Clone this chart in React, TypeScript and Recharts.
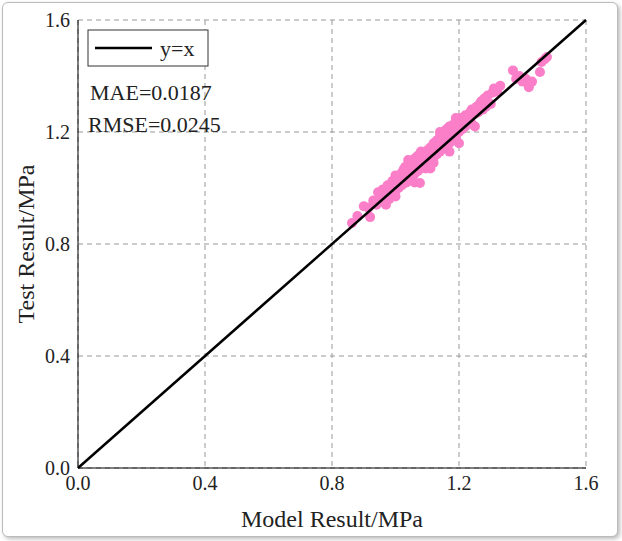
import React from "react";
import { ScatterChart, Scatter, XAxis, YAxis, CartesianGrid, Customized } from "recharts";

const ticks = [0, 0.4, 0.8, 1.2, 1.6];
const diagonal = [
  { x: 0, y: 0 },
  { x: 1.6, y: 1.6 },
];
// [model, test]
const samples: [number, number][] = [
  [0.863, 0.875], [0.88, 0.9], [0.9, 0.935], [0.92, 0.896], [0.915, 0.93], [0.93, 0.955],
  [0.94, 0.94], [0.95, 0.97], [0.945, 0.985], [0.96, 0.95], [0.96, 0.995], [0.97, 0.97],
  [0.975, 1.01], [0.98, 0.96], [0.985, 0.995], [0.99, 1.025], [1.0, 0.99], [1.0, 1.045],
  [1.01, 1.0], [1.01, 1.03], [1.02, 1.055], [1.02, 1.01], [1.025, 1.065], [1.03, 1.03],
  [1.03, 1.075], [1.035, 1.02], [1.04, 1.055], [1.04, 1.085], [1.045, 1.04], [1.05, 1.07],
  [1.05, 1.095], [1.05, 1.03], [1.055, 1.08], [1.06, 1.05], [1.06, 1.105], [1.065, 1.075],
  [1.07, 1.09], [1.07, 1.06], [1.07, 1.115], [1.075, 1.1], [1.077, 1.018], [1.08, 1.07],
  [1.08, 1.115], [1.085, 1.085], [1.09, 1.125], [1.09, 1.095], [1.095, 1.07], [1.1, 1.105],
  [1.1, 1.135], [1.1, 1.08], [1.105, 1.12], [1.11, 1.145], [1.11, 1.1], [1.115, 1.13],
  [1.12, 1.16], [1.12, 1.11], [1.125, 1.14], [1.13, 1.17], [1.13, 1.12], [1.135, 1.15],
  [1.14, 1.185], [1.14, 1.13], [1.145, 1.16], [1.15, 1.2], [1.15, 1.14], [1.155, 1.17],
  [1.16, 1.21], [1.16, 1.15], [1.165, 1.18], [1.17, 1.22], [1.17, 1.16], [1.175, 1.19],
  [1.18, 1.225], [1.18, 1.17], [1.185, 1.2], [1.19, 1.235], [1.19, 1.18], [1.2, 1.2],
  [1.2, 1.23], [1.205, 1.25], [1.21, 1.21], [1.21, 1.24], [1.22, 1.22], [1.22, 1.26],
  [1.225, 1.235], [1.23, 1.25], [1.235, 1.27], [1.24, 1.23], [1.24, 1.28], [1.25, 1.265],
  [1.255, 1.29], [1.26, 1.27], [1.265, 1.3], [1.27, 1.31], [1.275, 1.28], [1.28, 1.32],
  [1.285, 1.29], [1.29, 1.33], [1.3, 1.3], [1.305, 1.34], [1.31, 1.355], [1.32, 1.345],
  [1.33, 1.365], [1.37, 1.42], [1.38, 1.39], [1.39, 1.4], [1.4, 1.38], [1.42, 1.36],
  [1.41, 1.39], [1.43, 1.38], [1.455, 1.414], [1.46, 1.45], [1.47, 1.46], [1.477, 1.468],
  [1.06, 1.02], [1.12, 1.09], [1.17, 1.13], [1.0, 0.97], [0.97, 0.94], [1.14, 1.2],
  [1.08, 1.13], [1.2, 1.16], [1.25, 1.22], [1.11, 1.07], [1.04, 1.1], [1.19, 1.25],
];
const points = samples.map(([x, y]) => ({ x, y }));

const font = "'Liberation Serif', 'Times New Roman', serif";
const fmt = (v: number) => v.toFixed(1);

export default function App() {
  return (
    <div style={{ position: "absolute", left: 0, top: 0, width: 622, height: 541, fontFamily: font }}>
      <div
        style={{
          position: "absolute", left: 2, top: 2, width: 614, height: 533,
          border: "1px solid #bbb", borderRadius: 6, boxShadow: "2px 2px 4px #bbb", background: "#fff",
        }}
      />
      <div style={{ position: "absolute", left: 0, top: 0 }}>
        <ScatterChart width={622} height={541} margin={{ top: 20, right: 36, bottom: 0, left: 0 }}>
          <CartesianGrid stroke="#999" strokeDasharray="5 4" />
          <XAxis
            type="number" dataKey="x" domain={[0, 1.6]} ticks={ticks} tickFormatter={fmt}
            stroke="#000" tick={{ fill: "#222", fontSize: 20, fontFamily: font }} tickLine={false}
            height={73}
          />
          <XAxis xAxisId="top" orientation="top" type="number" domain={[0, 1.6]} ticks={ticks} tick={false} tickLine={false} stroke="#000" height={0} />
          <YAxis
            type="number" dataKey="y" domain={[0, 1.6]} ticks={ticks} tickFormatter={fmt}
            stroke="#000" tick={{ fill: "#222", fontSize: 20, fontFamily: font }} tickLine={false}
            width={78}
          />
          <YAxis yAxisId="right" orientation="right" type="number" domain={[0, 1.6]} ticks={ticks} tick={false} tickLine={false} stroke="#000" width={0} />
          <Scatter data={points} fill="#fa7fc8" isAnimationActive={false} shape={(p: any) => <circle cx={p.cx} cy={p.cy} r={5} fill="#fa7fc8" />} />
          <Scatter data={diagonal} line={{ stroke: "#000", strokeWidth: 2.5 }} shape={() => null} isAnimationActive={false} />
          <Customized
            component={() => (
              <g fontFamily={font} fill="#222">
                <rect x={88} y={30} width={120} height={36} fill="#fff" stroke="#333" strokeWidth={1} />
                <line x1={95} y1={48} x2={152} y2={48} stroke="#000" strokeWidth={2.5} />
                <text x={160} y={56} fontSize={22}>y=x</text>
                <text x={90} y={100} fontSize={22}>MAE=0.0187</text>
                <text x={88} y={132} fontSize={22}>RMSE=0.0245</text>
                <text x={332} y={527} fontSize={24} textAnchor="middle">Model Result/MPa</text>
                <text x={34} y={244} fontSize={24} textAnchor="middle" transform="rotate(-90 34 244)">Test Result/MPa</text>
              </g>
            )}
          />
        </ScatterChart>
      </div>
    </div>
  );
}
